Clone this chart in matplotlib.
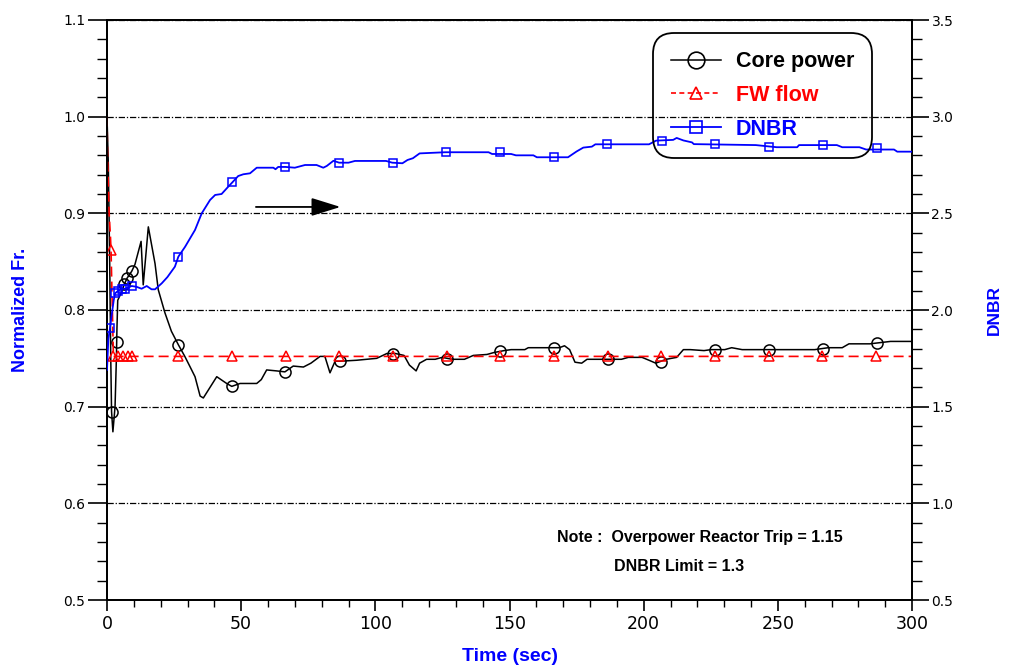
import matplotlib
matplotlib.use('Agg')
import matplotlib.pyplot as plt
from matplotlib.ticker import MultipleLocator, FormatStrFormatter
from matplotlib.lines import Line2D

# ---------------- data ----------------
power_t = [0, 0.5, 1.0, 1.4, 1.7, 2.2, 3.0, 3.5, 3.7, 4.0, 5.5, 6.5, 7.5, 9.2, 10.4,
           12.7, 13.5, 15.4, 17.9, 19.1, 21.6, 24.0, 26.6, 29.0, 31.0, 32.8, 34.7, 35.9,
           38.4, 40.9, 44.6, 46.5, 49.6, 55.8, 57.5, 59.5, 63.2, 66.3, 69.4, 73.2, 76.0,
           79.4, 81.2, 83.1, 85.0, 86.8, 93.0, 100.5, 104.3, 107.5, 110.7, 112.7, 115.2,
           116.5, 119.1, 122.3, 124.9, 128.7, 133.2, 136.5, 141.6, 144.2, 148.0, 150.6,
           155.7, 157.0, 168.6, 170.5, 172.4, 174.4, 176.9, 178.9, 184.0, 191.7, 194.3,
           199.4, 202.0, 204.5, 208.4, 212.3, 214.8, 217.4, 222.5, 225.1, 230.2, 232.8,
           236.7, 239.2, 249.5, 252.7, 263.7, 268.8, 274.0, 276.5, 284.3, 292.0, 300.0]
power_v = [1.0, 0.95, 0.85, 0.75, 0.695, 0.674, 0.70, 0.75, 0.78, 0.81, 0.819, 0.827, 0.833, 0.84, 0.847,
           0.871, 0.826, 0.886, 0.848, 0.821, 0.797, 0.778, 0.764, 0.752, 0.741, 0.731, 0.711, 0.709,
           0.720, 0.731, 0.724, 0.721, 0.724, 0.724, 0.728, 0.738, 0.737, 0.736, 0.742, 0.741, 0.745,
           0.752, 0.752, 0.735, 0.747, 0.747, 0.748, 0.750, 0.755, 0.755, 0.753, 0.743, 0.737,
           0.745, 0.749, 0.749, 0.751, 0.749, 0.749, 0.753, 0.754, 0.756, 0.758, 0.759,
           0.759, 0.761, 0.761, 0.763, 0.759, 0.746, 0.745, 0.749, 0.749, 0.749, 0.751,
           0.751, 0.748, 0.745, 0.749, 0.751, 0.759, 0.759, 0.758, 0.759, 0.759, 0.761,
           0.759, 0.759, 0.759, 0.759, 0.759, 0.761, 0.761, 0.765, 0.765, 0.7675, 0.7675]
power_mark_t = [1.7, 3.6, 6.5, 7.5, 9.2, 26.6, 46.5, 66.3, 86.8, 106.5, 126.7, 146.5,
                166.6, 186.6, 206.5, 226.6, 246.7, 266.8, 286.8]
power_mark_v = [0.695, 0.767, 0.827, 0.833, 0.840, 0.764, 0.721, 0.736, 0.747, 0.755, 0.749, 0.758,
                0.761, 0.749, 0.746, 0.759, 0.759, 0.760, 0.7655]

fw_t = [0, 0.2, 0.8, 1.3, 1.5, 2.0, 2.4, 300.0]
fw_v = [1.0, 0.96, 0.90, 0.875, 0.862, 0.80, 0.752, 0.752]
fw_mark_t = [1.5, 2.4, 4.2, 6.0, 7.9, 9.2, 26.6, 46.6, 66.6, 86.6, 106.6, 126.6, 146.6,
             166.6, 186.6, 206.6, 226.6, 246.6, 266.6, 286.6]
fw_mark_v = [0.862, 0.752, 0.752, 0.752, 0.752, 0.752, 0.752, 0.752, 0.752, 0.752, 0.752,
             0.752, 0.752, 0.752, 0.752, 0.752, 0.752, 0.752, 0.752, 0.752]

dnbr_t = [0, 0.5, 1.1, 2.0, 2.5, 3.0, 4.2, 5.5, 6.7, 9.2, 11.0, 12.9, 14.8, 16.6, 17.9,
          20.4, 22.5, 25.3, 26.6, 29.1, 32.8, 35.3, 38.4, 40.3, 42.7, 45.2, 46.7, 48.9,
          50.8, 53.3, 55.8, 62.0, 62.8, 63.8, 66.5, 70.0, 73.8, 78.1, 80.6, 81.9, 84.4,
          86.5, 90.0, 92.4, 104.0, 106.3, 110.1, 112.0, 114.0, 116.5, 126.0, 142.2, 143.5,
          150.6, 152.4, 158.9, 160.2, 171.8, 175.0, 177.5, 180.7, 182.0, 202.0, 204.6,
          211.0, 212.3, 214.8, 218.0, 218.7, 241.8, 246.7, 249.6, 257.2, 257.9, 272.0,
          274.0, 280.4, 282.9, 293.3, 294.5, 300.0]
dnbr_v = [1.69, 1.85, 1.905, 2.0, 2.05, 2.086, 2.10, 2.109, 2.11, 2.124, 2.12, 2.11, 2.124, 2.107, 2.107,
          2.138, 2.17, 2.224, 2.276, 2.327, 2.414, 2.50, 2.569, 2.595, 2.60, 2.638, 2.66, 2.693,
          2.702, 2.707, 2.736, 2.736, 2.728, 2.74, 2.74, 2.736, 2.75, 2.75, 2.736, 2.745, 2.772,
          2.762, 2.762, 2.771, 2.771, 2.762, 2.759, 2.776, 2.785, 2.81, 2.816, 2.816, 2.807,
          2.807, 2.80, 2.80, 2.79, 2.79, 2.82, 2.84, 2.845, 2.857, 2.857, 2.876,
          2.88, 2.89, 2.877, 2.867, 2.858, 2.853, 2.846, 2.842, 2.842, 2.853, 2.853,
          2.842, 2.842, 2.83, 2.83, 2.819, 2.819]
dnbr_mark_t = [1.1, 3.0, 4.2, 5.5, 6.7, 9.2, 26.6, 46.7, 66.5, 86.5, 106.5, 126.5, 146.5,
               166.6, 186.5, 206.7, 226.6, 246.7, 266.8, 286.8]
dnbr_mark_v = [1.905, 2.086, 2.10, 2.109, 2.11, 2.124, 2.276, 2.66, 2.74, 2.762, 2.762, 2.816, 2.816,
               2.793, 2.857, 2.876, 2.857, 2.845, 2.853, 2.836]

series_labels = ['Core power', 'FW flow', 'DNBR']
note_lines = ['Note :  Overpower Reactor Trip = 1.15', 'DNBR Limit = 1.3']

# ---------------- styling ----------------
BLUE = '#0000ff'
RED = '#ff0000'
BLACK = '#000000'
LABEL_FONT = 'Liberation Sans'
plt.rcParams['font.family'] = ['DejaVu Sans']

fig = plt.figure(figsize=(10.10, 6.69), dpi=100)
ax = fig.add_axes([107 / 1010, 69 / 669, 805 / 1010, 580 / 669])
ax2 = ax.twinx()

ax.plot(power_t, power_v, color=BLACK, lw=1.1, zorder=3)
ax.plot(power_mark_t, power_mark_v, ls='none', marker='o', ms=8, mfc='none',
        mec=BLACK, mew=1.1, zorder=4)
ax.plot(fw_t, fw_v, color=RED, lw=1.2, dashes=(6, 3), zorder=5)
ax.plot(fw_mark_t, fw_mark_v, ls='none', marker='^', ms=7, mfc='none',
        mec=RED, mew=1.1, zorder=6)
ax2.plot(dnbr_t, dnbr_v, color=BLUE, lw=1.3, zorder=3)
ax2.plot(dnbr_mark_t, dnbr_mark_v, ls='none', marker='s', ms=5.5, mfc='none',
         mec=BLUE, mew=1.1, zorder=4)

ax.set_xlim(0, 300)
ax.set_ylim(0.5, 1.1)
ax2.set_ylim(0.5, 3.5)
ax.xaxis.set_major_locator(MultipleLocator(50))
ax.xaxis.set_minor_locator(MultipleLocator(10))
ax.yaxis.set_major_locator(MultipleLocator(0.1))
ax.yaxis.set_minor_locator(MultipleLocator(0.02))
ax.yaxis.set_major_formatter(FormatStrFormatter('%.1f'))
ax2.yaxis.set_major_locator(MultipleLocator(0.5))
ax2.yaxis.set_minor_locator(MultipleLocator(0.1))
ax2.yaxis.set_major_formatter(FormatStrFormatter('%.1f'))

ax.tick_params(axis='y', which='major', direction='out', length=14, width=1.2,
               labelsize=10, pad=1.5)
ax.tick_params(axis='y', which='minor', direction='out', length=7, width=1.0)
ax.tick_params(axis='x', which='major', direction='out', length=8, width=1.2,
               labelsize=12.5, pad=3)
ax.tick_params(axis='x', which='minor', direction='out', length=5, width=1.0)
ax2.tick_params(axis='y', which='major', direction='out', length=12, width=1.2,
                labelsize=10, pad=2)
ax2.tick_params(axis='y', which='minor', direction='out', length=7, width=1.0)

for a in (ax, ax2):
    for s in a.spines.values():
        s.set_linewidth(1.3)
        s.set_color(BLACK)

ax.grid(axis='y', which='major', color=BLACK, lw=0.9, linestyle=(0, (5, 1.5, 1, 1.5)))
ax.set_axisbelow(True)

ax.set_ylabel('Normalized Fr.', color=BLUE, fontsize=13, fontweight='bold', family=LABEL_FONT)
ax.yaxis.set_label_coords(-0.097, 0.5)
ax2.set_ylabel('DNBR', color=BLUE, fontsize=12.5, fontweight='bold', family=LABEL_FONT)
ax2.yaxis.set_label_coords(1.093, 0.5)
ax.set_xlabel('Time (sec)', color=BLUE, fontsize=14, fontweight='bold', family=LABEL_FONT)
ax.xaxis.set_label_coords(0.5, -0.082)

# arrow pointing to the right axis (DNBR)
ax.annotate('', xy=(87, 0.9066), xytext=(55.5, 0.9066), xycoords='data',
            arrowprops=dict(arrowstyle='-|>,head_length=0.9,head_width=0.28',
                            color=BLACK, lw=1.3, mutation_scale=20,
                            shrinkA=0, shrinkB=0))

# note text
ax.text(0.559, 0.107, note_lines[0], transform=ax.transAxes, fontsize=11.5,
        fontweight='bold', family=LABEL_FONT, va='center', ha='left')
ax.text(0.630, 0.0586, note_lines[1], transform=ax.transAxes, fontsize=11.5,
        fontweight='bold', family=LABEL_FONT, va='center', ha='left')

# legend
handles = [
    Line2D([], [], color=BLACK, lw=1.1, marker='o', ms=12, mfc='none', mec=BLACK, mew=1.2),
    Line2D([], [], color=RED, lw=1.2, dashes=(3, 2), marker='^', ms=9, mfc='none', mec=RED, mew=1.2),
    Line2D([], [], color=BLUE, lw=1.3, marker='s', ms=8, mfc='none', mec=BLUE, mew=1.2),
]
leg = ax2.legend(handles, series_labels, loc='upper left', bbox_to_anchor=(0.678, 0.978),
                 borderaxespad=0, prop=dict(family=LABEL_FONT, weight='bold', size=15.5),
                 handlelength=2.3, handletextpad=0.7, borderpad=0.85, labelspacing=0.6,
                 frameon=True, fancybox=True, numpoints=1, framealpha=1)
frame = leg.get_frame()
frame.set_facecolor('none')
frame.set_edgecolor(BLACK)
frame.set_linewidth(1.3)
frame.set_boxstyle('round,pad=0,rounding_size=1.0')
for txt, c in zip(leg.get_texts(), [BLACK, RED, BLUE]):
    txt.set_color(c)

fig.savefig('out.png', dpi=100)
